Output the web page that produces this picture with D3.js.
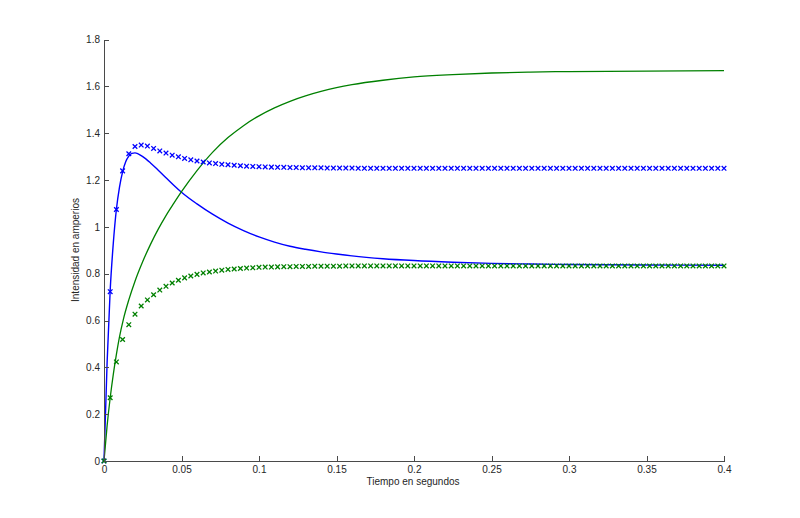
<!DOCTYPE html>
<html>
<head>
<meta charset="utf-8">
<script src="https://cdn.jsdelivr.net/npm/d3@7"></script>
<style>
  html, body { margin: 0; padding: 0; background: #fff; }
  svg { display: block; font-family: "Liberation Sans", Arial, Helvetica, sans-serif; }
</style>
</head>
<body>
<svg id="chart" width="800" height="518"></svg>
<script>
// ---------- data ----------
const markerStep = 0.004; // seconds between plotted samples (101 samples, 0 .. 0.4 s)

// blue "x" markers
const blueMarkers = [
  0, 0.723, 1.074, 1.239, 1.312, 1.343, 1.349, 1.345, 1.335, 1.324,
  1.315, 1.306, 1.299, 1.292, 1.286, 1.281, 1.277, 1.273, 1.270, 1.267,
  1.265, 1.263, 1.261, 1.259, 1.258, 1.257, 1.256, 1.255, 1.254, 1.254,
  1.253, 1.253, 1.252, 1.252, 1.252, 1.252, 1.251, 1.251, 1.251, 1.251,
  1.251, 1.250, 1.250, 1.250, 1.250, 1.250, 1.250, 1.250, 1.250, 1.250,
  1.250, 1.250, 1.250, 1.250, 1.250, 1.250, 1.250, 1.250, 1.250, 1.250,
  1.250, 1.250, 1.250, 1.250, 1.250, 1.250, 1.250, 1.250, 1.250, 1.250,
  1.250, 1.250, 1.250, 1.250, 1.250, 1.250, 1.250, 1.250, 1.250, 1.250,
  1.250, 1.250, 1.250, 1.250, 1.250, 1.250, 1.250, 1.250, 1.250, 1.250,
  1.250, 1.250, 1.250, 1.250, 1.250, 1.250, 1.250, 1.250, 1.250, 1.250,
  1.250
];

// green "x" markers
const greenMarkers = [
  0, 0.270, 0.423, 0.519, 0.582, 0.627, 0.662, 0.688, 0.710, 0.730,
  0.746, 0.760, 0.772, 0.782, 0.790, 0.797, 0.803, 0.807, 0.811, 0.815,
  0.818, 0.820, 0.822, 0.824, 0.825, 0.827, 0.828, 0.828, 0.829, 0.830,
  0.830, 0.831, 0.831, 0.831, 0.832, 0.832, 0.832, 0.832, 0.832, 0.833,
  0.833, 0.833, 0.833, 0.833, 0.833, 0.833, 0.833, 0.833, 0.833, 0.833,
  0.833, 0.833, 0.833, 0.833, 0.833, 0.833, 0.833, 0.833, 0.833, 0.833,
  0.833, 0.833, 0.833, 0.833, 0.833, 0.833, 0.833, 0.833, 0.833, 0.833,
  0.833, 0.833, 0.833, 0.833, 0.833, 0.833, 0.833, 0.833, 0.833, 0.833,
  0.833, 0.833, 0.833, 0.833, 0.833, 0.833, 0.833, 0.833, 0.833, 0.833,
  0.833, 0.833, 0.833, 0.833, 0.833, 0.833, 0.833, 0.833, 0.833, 0.833,
  0.833
];

// blue solid line
const blueLineT = [0, 0.002, 0.004, 0.006, 0.008, 0.010, 0.012, 0.014, 0.016, 0.018,
  0.020, 0.022, 0.025, 0.030, 0.035, 0.040, 0.045, 0.050, 0.060, 0.070,
  0.080, 0.090, 0.100, 0.110, 0.120, 0.130, 0.140, 0.150, 0.160, 0.180,
  0.200, 0.225, 0.250, 0.275, 0.300, 0.350, 0.400];
const blueLineV = [0, 0.42, 0.73, 0.93, 1.075, 1.17, 1.235, 1.278, 1.302, 1.314,
  1.316, 1.312, 1.300, 1.273, 1.242, 1.210, 1.178, 1.148, 1.098, 1.054,
  1.016, 0.984, 0.957, 0.935, 0.917, 0.904, 0.893, 0.884, 0.876, 0.864,
  0.856, 0.849, 0.844, 0.841, 0.839, 0.837, 0.836];

// green solid line
const greenLineT = [0, 0.002, 0.004, 0.006, 0.008, 0.010, 0.0125, 0.016, 0.020, 0.025,
  0.030, 0.035, 0.040, 0.045, 0.050, 0.060, 0.070, 0.080, 0.090, 0.100,
  0.110, 0.120, 0.130, 0.140, 0.150, 0.160, 0.180, 0.200, 0.225, 0.250,
  0.275, 0.300, 0.350, 0.400];
const greenLineV = [0, 0.15, 0.27, 0.37, 0.455, 0.53, 0.605, 0.688, 0.768, 0.852,
  0.925, 0.990, 1.048, 1.100, 1.150, 1.240, 1.318, 1.381, 1.432, 1.474,
  1.508, 1.536, 1.559, 1.578, 1.594, 1.607, 1.626, 1.640, 1.650, 1.657,
  1.661, 1.663, 1.665, 1.667];

const xTicks = [0, 0.05, 0.1, 0.15, 0.2, 0.25, 0.3, 0.35, 0.4];
const yTicks = [0, 0.2, 0.4, 0.6, 0.8, 1, 1.2, 1.4, 1.6, 1.8];
const xTitle = "Tiempo en segundos";
const yTitle = "Intensidad en amperios";

// ---------- drawing ----------
const svg = d3.select("#chart");
const x = d3.scaleLinear().domain([0, 0.4]).range([104, 724]);
const y = d3.scaleLinear().domain([0, 1.8]).range([461, 39.5]);

const BLUE = "#0000ff", GREEN = "#008000";
const fmt = d => String(+d.toFixed(2));

const line = d3.line().x(d => x(d[0])).y(d => y(d[1])).curve(d3.curveMonotoneX);

svg.append("path")
  .datum(blueLineT.map((t, i) => [t, blueLineV[i]]))
  .attr("d", line).attr("fill", "none").attr("stroke", BLUE).attr("stroke-width", 1.4);
svg.append("path")
  .datum(greenLineT.map((t, i) => [t, greenLineV[i]]))
  .attr("d", line).attr("fill", "none").attr("stroke", GREEN).attr("stroke-width", 1.3);

function drawMarkers(values, color) {
  const s = 2.3;
  svg.append("g").selectAll("path")
    .data(values.map((v, i) => [i * markerStep, v]))
    .join("path")
    .attr("d", d => {
      const cx = x(d[0]), cy = y(d[1]);
      return `M${cx - s},${cy - s}L${cx + s},${cy + s}M${cx - s},${cy + s}L${cx + s},${cy - s}`;
    })
    .attr("stroke", color).attr("stroke-width", 1.3).attr("fill", "none");
}
drawMarkers(blueMarkers, BLUE);
drawMarkers(greenMarkers, GREEN);

// axes (MATLAB style: inward ticks, no box)
const axisColor = "#4a4a4a", textColor = "#262626";
const gx = svg.append("g").attr("transform", "translate(0,461)")
  .call(d3.axisBottom(x).tickValues(xTicks).tickFormat(fmt).tickSizeInner(-5).tickSizeOuter(0).tickPadding(5));
const gy = svg.append("g").attr("transform", "translate(104,0)")
  .call(d3.axisLeft(y).tickValues(yTicks).tickFormat(fmt).tickSizeInner(-5).tickSizeOuter(0).tickPadding(4));
[gx, gy].forEach(g => {
  g.select(".domain").attr("stroke", axisColor).attr("shape-rendering", "crispEdges");
  g.selectAll(".tick line").attr("stroke", axisColor).attr("shape-rendering", "crispEdges");
  g.selectAll(".tick text").attr("fill", textColor).attr("font-size", 10)
    .attr("font-family", "'Liberation Sans', Arial, sans-serif");
});

svg.append("text").attr("x", 413).attr("y", 485).attr("text-anchor", "middle")
  .attr("font-size", 10).attr("fill", textColor).text(xTitle);
svg.append("text").attr("transform", "translate(78.5,250) rotate(-90)").attr("text-anchor", "middle")
  .attr("font-size", 10).attr("fill", textColor).text(yTitle);
</script>
</body>
</html>
